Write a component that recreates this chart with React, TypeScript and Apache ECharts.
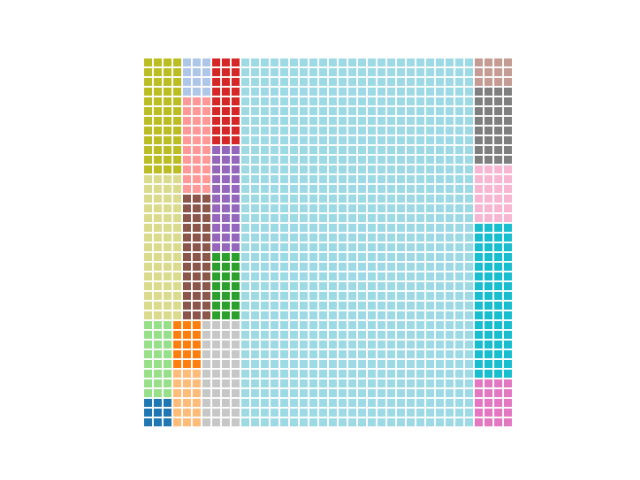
import React, { useEffect, useRef } from "react";
import * as echarts from "echarts";

// Waffle blocks (grid of 38 x 38 unit cells)
const names = [
  "A", "B", "C", "D", "E", "F", "G", "H", "I", "J",
  "K", "L", "M", "N", "O", "P", "Q", "R", "S",
];
const values = [48, 60, 12, 30, 39, 27, 33, 21, 24, 9, 15, 18, 44, 912, 12, 32, 24, 64, 20];
const colStart = [0, 0, 4, 4, 4, 7, 7, 7, 0, 0, 3, 3, 6, 10, 34, 34, 34, 34, 34];
const rowStart = [0, 12, 0, 4, 14, 0, 9, 20, 27, 35, 27, 32, 27, 0, 0, 3, 11, 17, 33];
const colSpan = [4, 4, 3, 3, 3, 3, 3, 3, 3, 3, 3, 3, 4, 24, 4, 4, 4, 4, 4];
const colors = [
  "#bcbd22", "#dbdb8d", "#aec7e8", "#ff9896", "#8c564b", "#d62728", "#9467bd",
  "#2ca02c", "#98df8a", "#1f77b4", "#ff7f0e", "#ffbb78", "#c7c7c7", "#9edae5",
  "#c49c94", "#7f7f7f", "#f7b6d2", "#17becf", "#e377c2",
];
const gridCols = 38;
const gridRows = 38;

export default function App() {
  const ref = useRef<HTMLDivElement>(null);
  useEffect(() => {
    if (!ref.current) return;
    const chart = echarts.init(ref.current, null, { renderer: "svg" });
    const cells: number[][] = [];
    names.forEach((_, k) => {
      for (let i = 0; i < values[k]; i++) {
        const c = colStart[k] + (i % colSpan[k]);
        const r = rowStart[k] + Math.floor(i / colSpan[k]);
        cells.push([c + 0.5, r + 0.5, k]);
      }
    });
    chart.setOption({
      animation: false,
      grid: { left: 143.2, top: 57.6, width: 369.6, height: 369.6 },
      xAxis: { type: "value", min: 0, max: gridCols, show: false },
      yAxis: { type: "value", min: 0, max: gridRows, inverse: true, show: false },
      series: [
        {
          type: "custom",
          data: cells,
          renderItem: (params: any, api: any) => {
            const p = api.coord([api.value(0), api.value(1)]);
            const s = api.size([1, 1]);
            const w = s[0] * 0.82;
            const h = s[1] * 0.82;
            const k = api.value(2);
            return {
              type: "rect",
              shape: { x: p[0] - w / 2, y: p[1] - h / 2, width: w, height: h },
              style: { fill: colors[k] },
            };
          },
        },
      ],
    });
    return () => chart.dispose();
  }, []);
  return (
    <div
      ref={ref}
      style={{ position: "fixed", left: 0, top: 0, width: 640, height: 480 }}
    />
  );
}
